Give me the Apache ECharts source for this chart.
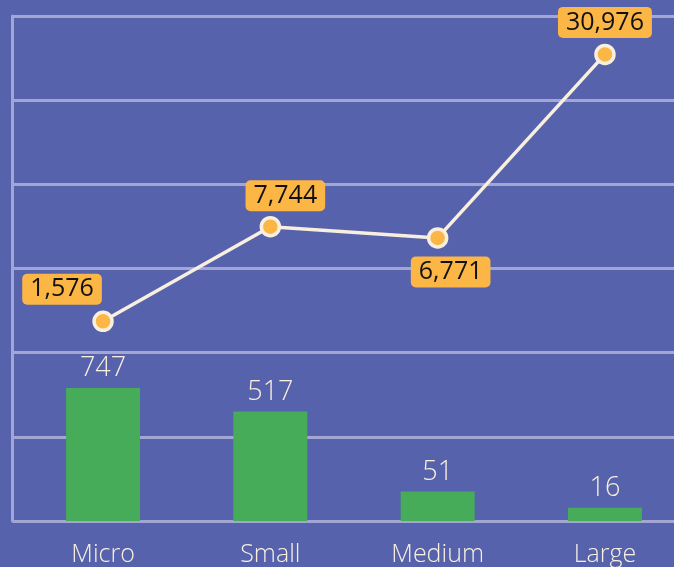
<!DOCTYPE html>
<html>
<head>
<meta charset="utf-8">
<style>
html,body{margin:0;padding:0;background:#5662ab;}
#chart{width:674px;height:567px;}
</style>
<script src="https://cdn.jsdelivr.net/npm/echarts@6/dist/echarts.min.js"></script>
</head>
<body>
<div id="chart"></div>
<script>
const categories = ['Micro', 'Small', 'Medium', 'Large'];
const barValues = [747, 517, 51, 16];
const lineValues = [1576, 7744, 6771, 30976];

const fmt = v => v.toLocaleString('en-US');
// chart uses a square-root value scale
const sq = v => Math.sqrt(v);

const lineLabelOffsets = [[-41, -32], [15, -31], [13, 34], [0, -32]];

const chart = echarts.init(document.getElementById('chart'));
const gridColor = '#a3a6d5';
const cream = '#f8efdf';
const font = 'Open Sans';
const option = {
  backgroundColor: '#5662ab',
  animation: false,
  grid: [
    { left: 12.5, right: 0, top: 16, bottom: 46, outerBoundsMode: 'none', containLabel: false },
    { left: 19.4, right: -14.6, top: 16, bottom: 46, outerBoundsMode: 'none', containLabel: false }
  ],
  xAxis: [
    { gridIndex: 0, type: 'value', show: false, min: 0, max: 1 },
    {
      gridIndex: 1, type: 'category', data: categories,
      axisLine: { show: false }, axisTick: { show: false },
      axisLabel: { color: cream, fontSize: 25, fontFamily: font, fontWeight: 300, margin: 21 }
    }
  ],
  yAxis: [
    {
      gridIndex: 0, type: 'value', min: 0, max: 6, interval: 1,
      axisLabel: { show: false }, axisTick: { show: false },
      axisLine: { show: true, lineStyle: { color: gridColor, width: 3 } },
      splitLine: { show: true, lineStyle: { color: gridColor, width: 3 } }
    },
    { gridIndex: 1, type: 'value', show: false, min: 1.4, max: 99.9, splitLine: { show: false } },
    { gridIndex: 1, type: 'value', show: false, min: -62.3, max: 195.6, splitLine: { show: false } }
  ],
  series: [
    {
      type: 'bar', xAxisIndex: 1, yAxisIndex: 1,
      barWidth: 74,
      clip: true,
      itemStyle: { color: '#46ac5a' },
      data: barValues.map(v => sq(v)),
      label: {
        show: true, position: 'top', distance: 6,
        color: cream, fontSize: 27, fontFamily: font, fontWeight: 300,
        formatter: p => fmt(barValues[p.dataIndex])
      }
    },
    {
      type: 'line', xAxisIndex: 1, yAxisIndex: 2,
      symbol: 'circle', symbolSize: 18,
      lineStyle: { color: cream, width: 3.5 },
      itemStyle: { color: '#fbb646', borderColor: cream, borderWidth: 3.5 },
      data: lineValues.map((v, i) => ({
        value: sq(v),
        label: { offset: lineLabelOffsets[i] }
      })),
      label: {
        show: true, position: 'inside',
        color: '#111111', fontSize: 25, fontFamily: font, fontWeight: 400,
        backgroundColor: '#fbb646', borderRadius: 5,
        padding: [4, 8, 2, 8],
        formatter: p => fmt(lineValues[p.dataIndex])
      },
      z: 3
    }
  ]
};
chart.setOption(option);
</script>
</body>
</html>
